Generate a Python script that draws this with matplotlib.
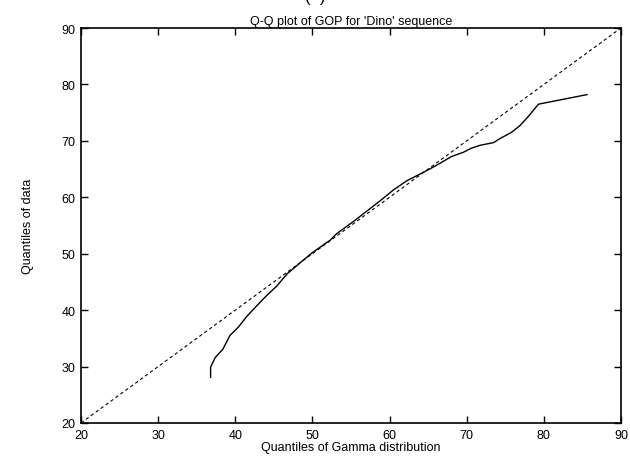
import matplotlib
matplotlib.use("Agg")
import matplotlib.pyplot as plt

# Q-Q curve (Gamma quantiles vs data quantiles)
gamma_q = [36.8, 36.8, 37.4, 38.4, 39.3, 40.4, 41.5, 42.8, 44.0, 45.4, 46.7,
           48.5, 50.0, 52.3, 53.1, 55.5, 58.8, 60.5, 62.2, 65.2, 66.5, 68.0,
           69.6, 70.6, 71.7, 73.5, 74.3, 75.8, 76.9, 78.0, 79.3, 85.6]
data_q = [28.1, 29.9, 31.6, 33.1, 35.5, 37.0, 38.9, 40.8, 42.5, 44.3, 46.4,
          48.5, 50.2, 52.4, 53.5, 55.9, 59.4, 61.3, 62.9, 65.0, 66.0, 67.2,
          68.0, 68.7, 69.2, 69.7, 70.4, 71.5, 72.7, 74.35, 76.5, 78.2]
ref_line = [20, 90]
ticks = [20, 30, 40, 50, 60, 70, 80, 90]

plt.rcParams["font.family"] = ["Liberation Sans", "DejaVu Sans"]
plt.rcParams["font.size"] = 9

fig = plt.figure(figsize=(6.3, 4.6), dpi=100)
ax = fig.add_axes([81 / 630, 1 - 424 / 460, 540 / 630, 395 / 460])

ax.plot(ref_line, ref_line, color="black", lw=0.8, ls=(0, (3, 2.5)))
ax.plot(gamma_q, data_q, color="black", lw=1.0)

ax.set_xlim(20, 90)
ax.set_ylim(20, 90)
ax.set_xticks(ticks)
ax.set_yticks(ticks)
ax.tick_params(direction="in", length=5, width=1, top=True, right=True,
               labelsize=9, pad=4)
for s in ax.spines.values():
    s.set_linewidth(1.2)

ax.set_xlabel("Quantiles of Gamma distribution", labelpad=0)
ax.set_ylabel("Quantiles of data", labelpad=20)
ax.set_title("Q-Q plot of GOP for 'Dino' sequence", fontsize=9, pad=3)
fig.text(0.5, 1.005, "(  )", ha="center", va="center", fontsize=12)

fig.savefig("out.png", dpi=100)
